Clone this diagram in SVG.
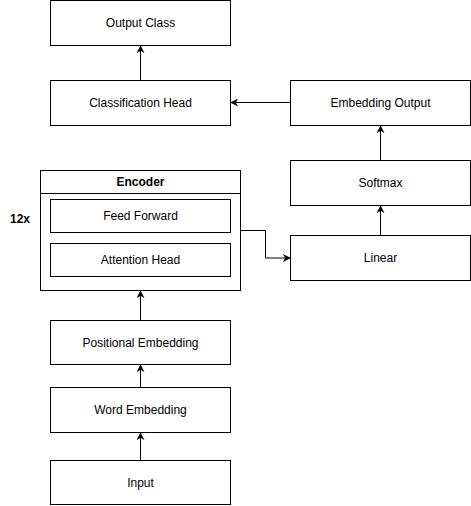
<svg xmlns="http://www.w3.org/2000/svg" width="471" height="506" viewBox="0 0 471 506">
<style>
rect{fill:#fff;stroke:#000;stroke-width:1}
text{font-family:"Liberation Sans",Arial,sans-serif;font-size:12px;fill:#000;text-anchor:middle;dominant-baseline:central}
.b{font-weight:bold}
.c{fill:none;stroke:#000;stroke-width:1}
</style>
<defs>
<marker id="a" viewBox="0 0 10 10" refX="9" refY="5" markerWidth="8" markerHeight="8" markerUnits="userSpaceOnUse" orient="auto">
<path d="M0,0 L10,5 L0,10 L3,5 Z" fill="#000"/>
</marker>
</defs>
<rect x="0" y="0" width="471" height="506" style="fill:#fff;stroke:none"/>
<g id="connectors">
<path class="c" d="M140.5,460 V433" marker-end="url(#a)"/>
<path class="c" d="M140.5,387.5 V365" marker-end="url(#a)"/>
<path class="c" d="M140.5,320.5 V291" marker-end="url(#a)"/>
<path class="c" d="M140.5,80.5 V46" marker-end="url(#a)"/>
<path class="c" d="M290.5,102.5 H231" marker-end="url(#a)"/>
<path class="c" d="M380.5,160.5 V126" marker-end="url(#a)"/>
<path class="c" d="M380.5,235.5 V206" marker-end="url(#a)"/>
<path class="c" d="M240.5,230.5 H265.5 V258 H290" marker-end="url(#a)"/>
</g>
<g id="output-class"><rect x="50.5" y="0.5" width="180" height="45"/><text x="140.5" y="23">Output Class</text></g>
<g id="classification-head"><rect x="50.5" y="80.5" width="180" height="45"/><text x="140.5" y="103">Classification Head</text></g>
<g id="embedding-output"><rect x="290.5" y="80.5" width="180" height="45"/><text x="380.5" y="103">Embedding Output</text></g>
<g id="softmax"><rect x="290.5" y="160.5" width="180" height="45"/><text x="380.5" y="183">Softmax</text></g>
<g id="linear"><rect x="290.5" y="235.5" width="180" height="45"/><text x="380.5" y="258">Linear</text></g>
<g id="encoder">
<rect x="40.5" y="170.5" width="200" height="120"/>
<line x1="40.5" y1="193.5" x2="240.5" y2="193.5" stroke="#000"/>
<text class="b" x="140.5" y="182">Encoder</text>
</g>
<g id="feed-forward"><rect x="50.5" y="199.5" width="180" height="33"/><text x="140.5" y="216">Feed Forward</text></g>
<g id="attention-head"><rect x="50.5" y="243.5" width="180" height="33"/><text x="140.5" y="260">Attention Head</text></g>
<g id="label-12x"><text class="b" x="20" y="219">12x</text></g>
<g id="positional-embedding"><rect x="50.5" y="320.5" width="180" height="44"/><text x="140.5" y="342.5">Positional Embedding</text></g>
<g id="word-embedding"><rect x="50.5" y="387.5" width="180" height="45"/><text x="140.5" y="410">Word Embedding</text></g>
<g id="input"><rect x="50.5" y="460.5" width="180" height="44"/><text x="140.5" y="482.5">Input</text></g>
</svg>
